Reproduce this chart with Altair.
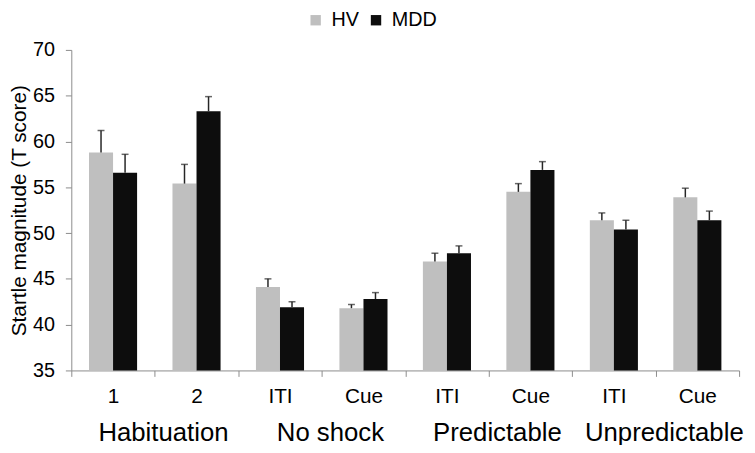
import altair as alt
import pandas as pd

# ---- data ----
cat_ids = ["h1", "h2", "n_iti", "n_cue", "p_iti", "p_cue", "u_iti", "u_cue"]
tick_labels = ["1", "2", "ITI", "Cue", "ITI", "Cue", "ITI", "Cue"]
groups = ["HV", "MDD"]
hv_mean = [58.8, 55.4, 44.1, 41.8, 46.9, 54.5, 51.4, 53.9]
hv_top = [61.2, 57.5, 45.0, 42.2, 47.8, 55.4, 52.2, 54.9]
mdd_mean = [56.6, 63.3, 41.9, 42.8, 47.8, 56.9, 50.4, 51.4]
mdd_top = [58.6, 64.9, 42.5, 43.5, 48.6, 57.8, 51.4, 52.4]
condition_names = ["Habituation", "No shock", "Predictable", "Unpredictable"]
condition_first_cat = ["h1", "n_iti", "p_iti", "u_iti"]

rows = []
for i, c in enumerate(cat_ids):
    rows.append({"cat": c, "group": "HV", "mean": hv_mean[i], "top": hv_top[i]})
    rows.append({"cat": c, "group": "MDD", "mean": mdd_mean[i], "top": mdd_top[i]})
df = pd.DataFrame(rows)
cond_df = pd.DataFrame({"cat": condition_first_cat, "name": condition_names})

label_map = "{" + ",".join(f"'{k}':'{v}'" for k, v in zip(cat_ids, tick_labels)) + "}"

FONT = "Liberation Sans"
AXIS_GRAY = "#8c8c8c"

x_scale = alt.Scale(domain=cat_ids, paddingInner=0, paddingOuter=0)
off_scale = alt.Scale(domain=groups, paddingInner=0, paddingOuter=0.736)
x_enc = alt.X(
    "cat:N",
    scale=x_scale,
    sort=cat_ids,
    axis=alt.Axis(
        title=None,
        labelExpr=f"{label_map}[datum.value]",
        labelAngle=0,
        labelFontSize=21,
        labelFont=FONT,
        labelColor="#000000",
        labelPadding=9,
        tickBand="extent",
        tickSize=6,
        tickColor=AXIS_GRAY,
        domainColor=AXIS_GRAY,
        grid=False,
    ),
)
y_scale = alt.Scale(domain=[35, 70], nice=False, zero=False)
y_enc = alt.Y(
    "mean:Q",
    scale=y_scale,
    axis=alt.Axis(
        title="Startle magnitude (T score)",
        values=[35, 40, 45, 50, 55, 60, 65, 70],
        labelFontSize=20,
        labelFont=FONT,
        labelColor="#000000",
        labelPadding=11,
        tickSize=6,
        tickColor=AXIS_GRAY,
        domainColor=AXIS_GRAY,
        titleFont=FONT,
        titleFontSize=21,
        titleFontWeight="normal",
        titleColor="#000000",
        titlePadding=3,
        grid=False,
    ),
)
color_enc = alt.Color(
    "group:N",
    scale=alt.Scale(domain=groups, range=["#bfbfbf", "#0d0d0d"]),
    legend=alt.Legend(
        title=None,
        orient="none",
        direction="horizontal",
        legendX=237,
        legendY=-40,
        symbolType="square",
        symbolSize=110,
        symbolStrokeWidth=0,
        labelFontSize=20,
        labelFont=FONT,
        labelColor="#000000",
        labelOffset=6,
        columnPadding=7,
        padding=0,
    ),
)

base = alt.Chart(df)
bars = base.mark_bar().encode(
    x=x_enc,
    xOffset=alt.XOffset("group:N", sort=groups, scale=off_scale),
    y=y_enc,
    y2=alt.datum(35),
    color=color_enc,
)
err = base.mark_rule(color="#262626", strokeWidth=1.5).encode(
    x=alt.X("cat:N", scale=x_scale, sort=cat_ids),
    xOffset=alt.XOffset("group:N", sort=groups, scale=off_scale),
    y=alt.Y("mean:Q", scale=y_scale),
    y2="top:Q",
)
caps = base.mark_tick(color="#262626", orient="horizontal", size=7, thickness=1.5).encode(
    x=alt.X("cat:N", scale=x_scale, sort=cat_ids),
    xOffset=alt.XOffset("group:N", sort=groups, scale=off_scale),
    y=alt.Y("top:Q", scale=y_scale),
)
cond_text = alt.Chart(cond_df).mark_text(
    font=FONT, fontSize=26, baseline="alphabetic", align="center", dx=51, color="#000000"
).encode(
    x=alt.X("cat:N", scale=x_scale, sort=cat_ids),
    y=alt.value(395),
    text="name:N",
)

chart = (
    alt.layer(bars, err, caps, cond_text)
    .properties(
        width=675,
        height=324,
        autosize=alt.AutoSizeParams(type="none"),
        padding={"left": 64, "top": 40, "right": 8, "bottom": 73},
        background="white",
    )
    .configure_view(stroke=None)
)

chart.save("out.html", embed_options={"renderer": "svg", "actions": False})
